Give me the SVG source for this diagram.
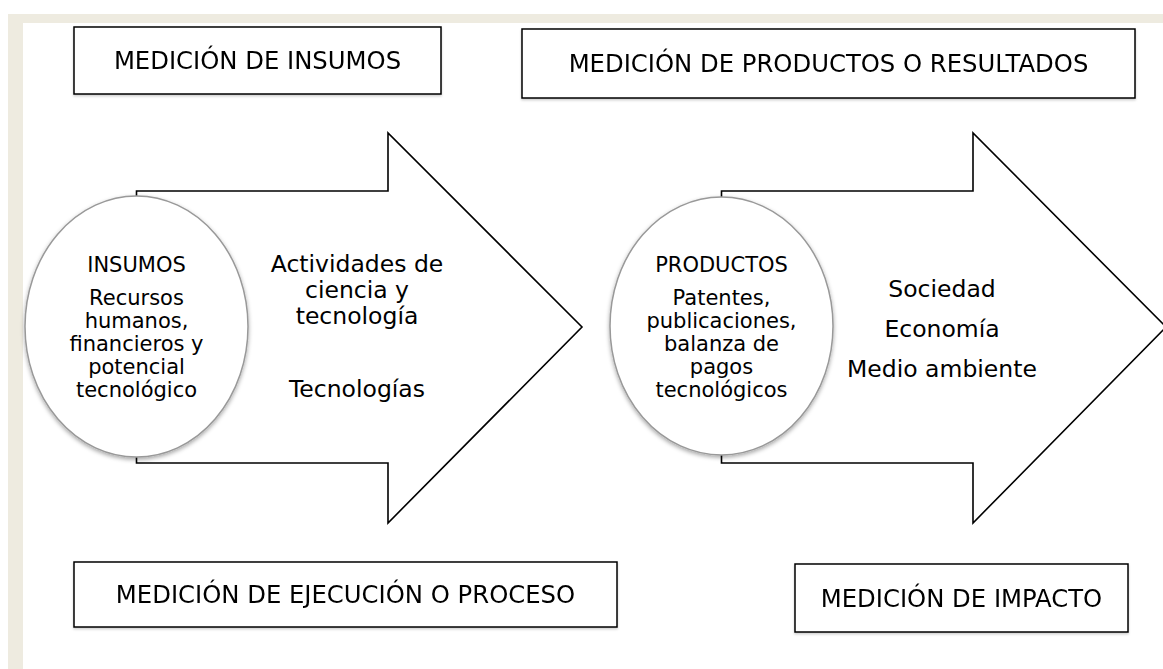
<svg xmlns="http://www.w3.org/2000/svg" width="1163" height="669" viewBox="0 0 1163 669">
  <defs>
    <filter id="sh" x="-20%" y="-20%" width="140%" height="140%">
      <feDropShadow dx="0" dy="2" stdDeviation="2" flood-color="#000" flood-opacity="0.35"/>
    </filter>
    <filter id="shb" x="-5%" y="-10%" width="110%" height="130%">
      <feDropShadow dx="0" dy="1.5" stdDeviation="1" flood-color="#000" flood-opacity="0.2"/>
    </filter>
    <style>
      .box { fill: #fff; stroke: #000; stroke-width: 1.5; }
      .arrow { fill: #fff; stroke: #000; stroke-width: 1.6; stroke-linejoin: miter; }
      .ell { fill: #fff; stroke: #999; stroke-width: 1.5; }
      text { font-family: "DejaVu Sans", Verdana, sans-serif; fill: #000; text-anchor: middle; }
      .bt { font-size: 24.3px; }
      .et { font-size: 21px; }
      .at { font-size: 23.5px; }
    </style>
  </defs>

  <rect x="0" y="0" width="1163" height="669" fill="#fff"/>
  <rect x="8" y="14" width="1155" height="655" fill="#EEEBE0"/>
  <rect x="23" y="23" width="1140" height="646" fill="#fff"/>

  <g id="connectors">
    <path id="arrow1" class="arrow" d="M136.5,191 H388 V133 L582,327 L388,523 V463 H136.5 Z"/>
    <path id="arrow2" class="arrow" d="M721.5,191 H973 V133 L1166,327 L973,523 V463 H721.5 Z"/>
  </g>

  <g id="box-insumos" filter="url(#shb)">
    <rect class="box" x="74" y="27" width="367" height="67"/>
    <text class="bt" x="257.5" y="69">MEDICIÓN DE INSUMOS</text>
  </g>

  <g id="box-productos" filter="url(#shb)">
    <rect class="box" x="522" y="29" width="613" height="69"/>
    <text class="bt" x="828.5" y="72">MEDICIÓN DE PRODUCTOS O RESULTADOS</text>
  </g>

  <g id="box-ejecucion" filter="url(#shb)">
    <rect class="box" x="74" y="562" width="543" height="65"/>
    <text class="bt" x="345.5" y="603">MEDICIÓN DE EJECUCIÓN O PROCESO</text>
  </g>

  <g id="box-impacto" filter="url(#shb)">
    <rect class="box" x="795" y="564" width="333" height="68"/>
    <text class="bt" x="961.5" y="607">MEDICIÓN DE IMPACTO</text>
  </g>

  <g id="node-insumos">
    <ellipse class="ell" cx="136.5" cy="326.5" rx="111.5" ry="130.5" filter="url(#sh)"/>
    <text class="et" x="136.5" y="272">INSUMOS</text>
    <text class="et" x="136.5" y="305">Recursos</text>
    <text class="et" x="136.5" y="328">humanos,</text>
    <text class="et" x="136.5" y="351">financieros y</text>
    <text class="et" x="136.5" y="374">potencial</text>
    <text class="et" x="136.5" y="397">tecnológico</text>
  </g>

  <g id="label-actividades">
    <text class="at" x="357" y="272">Actividades de</text>
    <text class="at" x="357" y="298">ciencia y</text>
    <text class="at" x="357" y="324">tecnología</text>
    <text class="at" x="357" y="397">Tecnologías</text>
  </g>

  <g id="node-productos">
    <ellipse class="ell" cx="721.5" cy="326" rx="111.5" ry="129" filter="url(#sh)"/>
    <text class="et" x="721.5" y="272">PRODUCTOS</text>
    <text class="et" x="721.5" y="305">Patentes,</text>
    <text class="et" x="721.5" y="328">publicaciones,</text>
    <text class="et" x="721.5" y="351">balanza de</text>
    <text class="et" x="721.5" y="374">pagos</text>
    <text class="et" x="721.5" y="397">tecnológicos</text>
  </g>

  <g id="label-impacto">
    <text class="at" x="942" y="297">Sociedad</text>
    <text class="at" x="942" y="337">Economía</text>
    <text class="at" x="942" y="377">Medio ambiente</text>
  </g>
</svg>
